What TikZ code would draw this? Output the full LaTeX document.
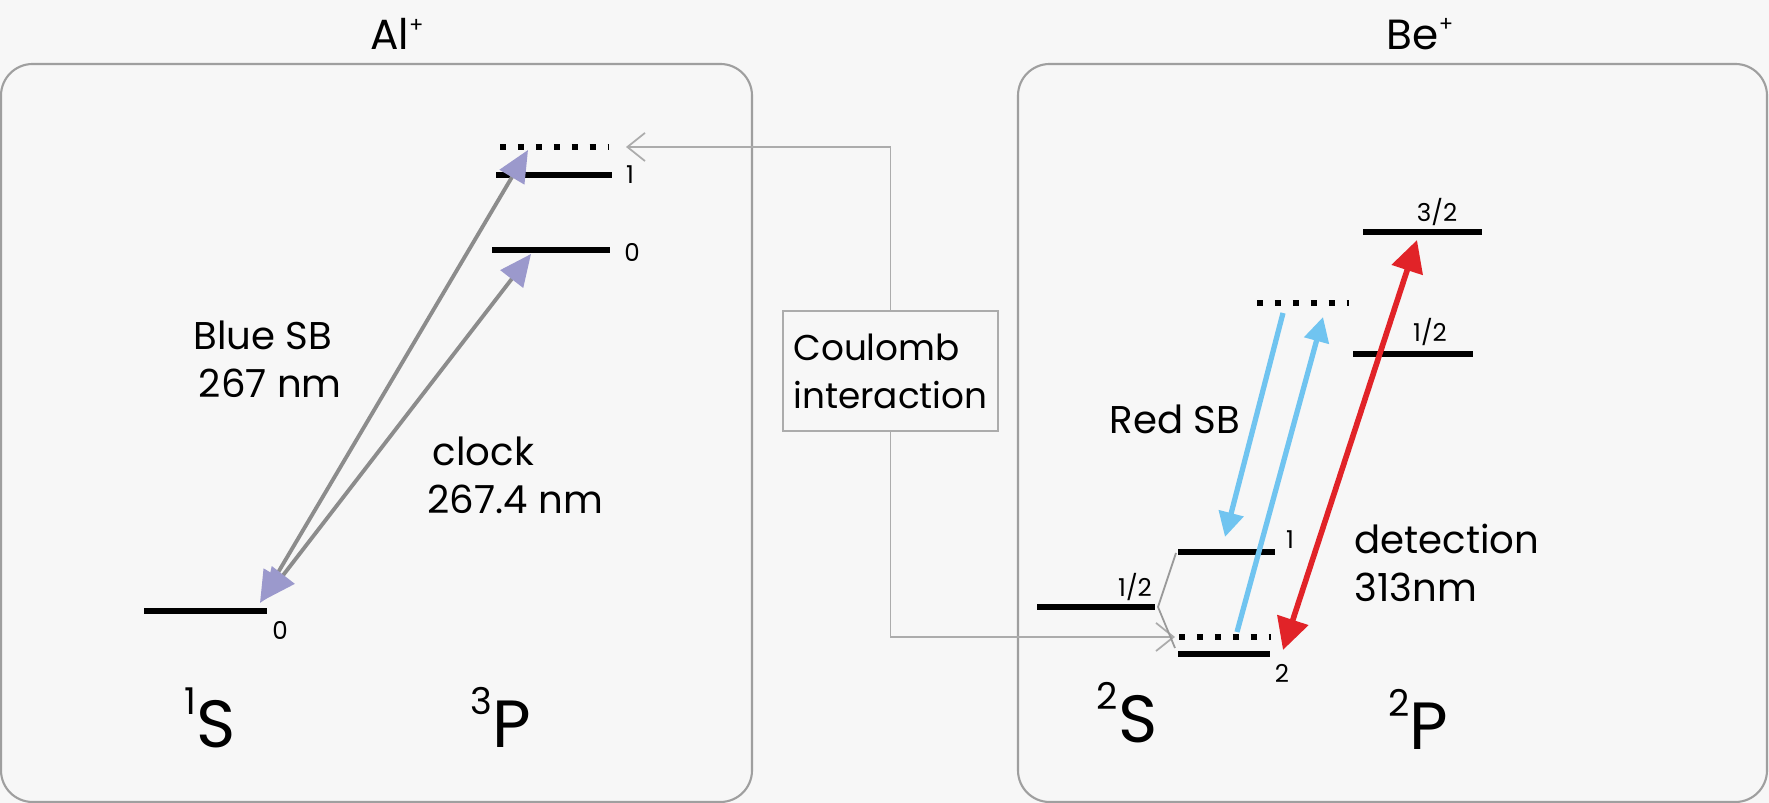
\documentclass[tikz,border=0pt]{standalone}
\usepackage{fontspec}
\setmainfont{Poppins}
\usetikzlibrary{arrows.meta}
\definecolor{L}{RGB}{155, 153, 204}
\definecolor{C}{RGB}{112, 196, 240}
\definecolor{R}{RGB}{225, 35, 40}
\definecolor{F}{RGB}{247, 247, 247}
\newcommand{\termino}[2]{\raisebox{9.4pt}{\fontsize{10.5}{12}\selectfont #1}#2}
\newcommand{\ion}[1]{#1\raisebox{5pt}{\fontsize{6}{6}\selectfont +}}

\begin{document}
\begin{tikzpicture}[
	nivel/.style={line width=1.6pt},
	virtual/.style={line width=1.6pt, dash pattern=on 1.7pt off 3.4pt},
	caja/.style={draw=gray!75, line width=0.6pt, rounded corners=9pt},
	num/.style={font=\fontsize{7}{8}\selectfont, inner sep=0pt},
	txt/.style={font=\fontsize{11}{13.7}\selectfont, align=left, inner sep=0pt},
	term/.style={font=\fontsize{19}{22}\selectfont, anchor=base, inner sep=0pt},
	fl/.style={draw=gray!90, line width=1.1pt, {Triangle[length=9pt,width=8pt,color=L]}-{Triangle[length=9pt,width=8pt,color=L]}},
	sb/.style={draw=C, line width=1.5pt, -{Triangle[length=7pt,width=7pt]}},
	det/.style={draw=R, line width=1.6pt, {Triangle[length=9pt,width=9pt]}-{Triangle[length=9pt,width=9pt]}},
	coul/.style={draw=gray!65, line width=0.5pt, -{Straight Barb[length=5pt,width=8pt]}}
]
	\useasboundingbox (0,0) rectangle (17.69,8.03);
	\fill[color=F] (0,0) rectangle (17.69,8.03);

	%Cajas de los dos iones
	\draw[caja] (0.01,0.01) rectangle (7.52,7.39);
	\draw[caja] (10.18,0.01) rectangle (17.67,7.39);
	\node[font=\fontsize{12}{14}\selectfont] (al) at (3.97,7.69) {\ion{Al}};
	\node[font=\fontsize{12}{14}\selectfont] (be) at (14.20,7.69) {\ion{Be}};

	%Niveles Al+
	\draw[nivel] (1.44,1.92) -- (2.67,1.92); %1S0
	\draw[nivel] (4.92,5.53) -- (6.10,5.53); %3P0
	\draw[nivel] (4.96,6.28) -- (6.12,6.28); %3P1
	\draw[virtual] (5.00,6.56) -- (6.08,6.56);
	\node[num] (s0n) at (2.80,1.73) {0};
	\node[num] (p0n) at (6.32,5.51) {0};
	\node[num] (p1n) at (6.30,6.28) {1};

	%Transiciones Al+
	\coordinate (s0) at (2.60,2.00);
	\coordinate (s0b) at (2.64,2.03);
	\coordinate (vir) at (5.28,6.53);
	\coordinate (p0) at (5.31,5.49);
	\draw[fl] (s0) -- (vir);
	\draw[fl] (s0b) -- (p0);
	\node[txt, anchor=west] (bsb) at (1.93,4.44) {Blue SB\\\hspace{1.5pt}267 nm};
	\node[txt, anchor=west] (clk) at (4.27,3.28) {\hspace{1.5pt}clock\\267.4 nm};

	\node[term] (ts) at (2.10,0.55) {\termino{1}{S}};
	\node[term] (tp) at (5.01,0.55) {\termino{3}{P}};

	%Acoplamiento
	\node[txt, font=\fontsize{10.2}{13.7}\selectfont, draw=gray!65, line width=0.5pt, inner xsep=3pt, minimum width=2.09cm, minimum height=1.2cm] (coulomb) at (8.905,4.32) {Coulomb\\interaction};
	\coordinate (ca) at (6.26,6.56);
	\coordinate (cb) at (11.75,1.66);
	\draw[coul] (coulomb.north) |- (ca);
	\draw[coul] (coulomb.south) |- (cb);

	%Niveles Be+
	\draw[nivel] (10.37,1.96) -- (11.55,1.96); %2S1/2
	\draw[nivel] (11.78,2.51) -- (12.75,2.51); %F=1
	\draw[nivel] (11.78,1.49) -- (12.70,1.49); %F=2
	\draw[virtual] (11.79,1.66) -- (12.71,1.66);
	\draw[nivel] (13.53,4.49) -- (14.73,4.49); %2P1/2
	\draw[nivel] (13.63,5.71) -- (14.82,5.71); %2P3/2
	\draw[virtual] (12.57,5.00) -- (13.49,5.00);
	\draw[gray!80, line width=0.5pt] (11.76,2.50) -- (11.58,1.96) -- (11.75,1.55);
	\node[num] (sh) at (11.35,2.16) {1/2};
	\node[num] (f1n) at (12.90,2.63) {1};
	\node[num] (f2n) at (12.82,1.30) {2};
	\node[num] (ph) at (14.30,4.71) {1/2};
	\node[num] (pt) at (14.37,5.91) {3/2};

	%Transiciones Be+
	\coordinate (va) at (12.83,4.90);
	\coordinate (f1) at (12.25,2.66);
	\coordinate (vb) at (12.37,1.71);
	\coordinate (vc) at (13.23,4.86);
	\coordinate (p32) at (14.17,5.63);
	\coordinate (f2) at (12.83,1.53);
	\draw[sb] (va) -- (f1);
	\draw[sb] (vb) -- (vc);
	\draw[det] (f2) -- (p32);
	\node[txt] (rsb) at (11.75,3.84) {Red SB};
	\node[txt, anchor=west] (dtn) at (13.54,2.40) {detection\\313nm};

	\node[term] (t2s) at (11.27,0.60) {\termino{2}{S}};
	\node[term] (t2p) at (14.18,0.53) {\termino{2}{P}};
\end{tikzpicture}
\end{document}
